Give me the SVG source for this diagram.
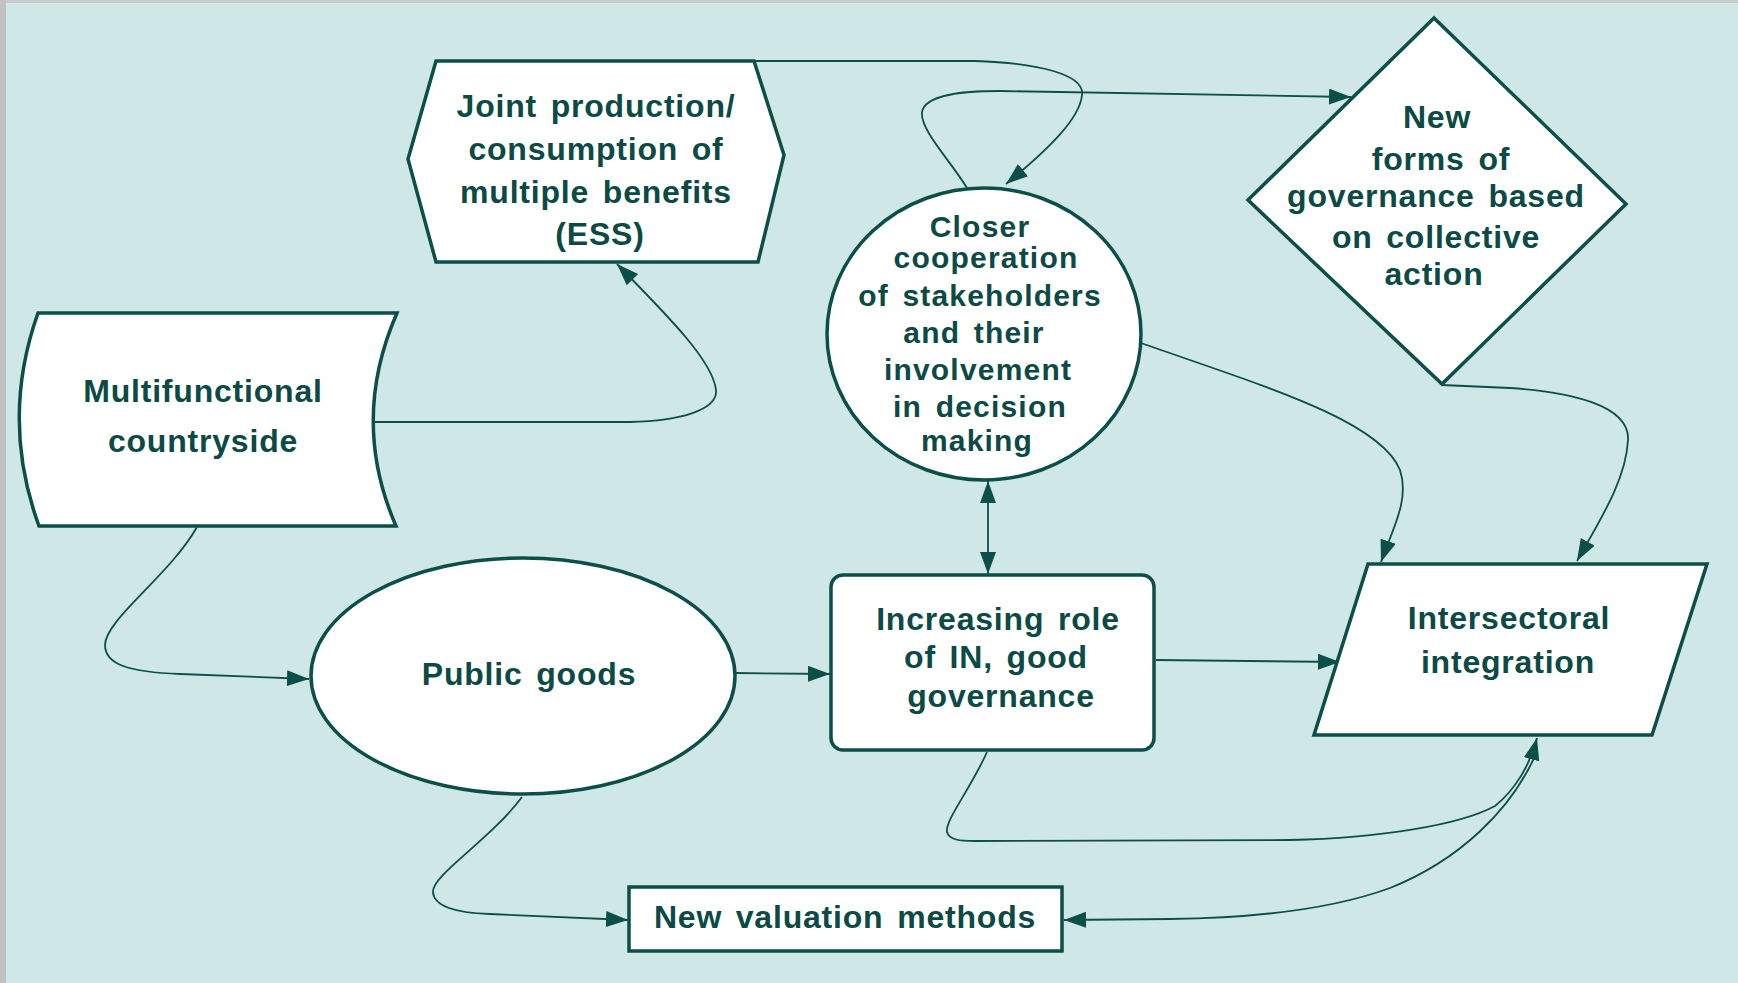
<svg xmlns="http://www.w3.org/2000/svg" width="1738" height="983" viewBox="0 0 1738 983">
<defs>
<style>
.node{fill:#ffffff;stroke:#0c4f49;stroke-width:3.5;stroke-linejoin:miter}
.lbl{font-family:"Liberation Sans",Arial,sans-serif;font-weight:bold;font-size:32px;fill:#0b4a45;text-anchor:middle;letter-spacing:0.8px;word-spacing:4px}
.sm{font-size:30px;letter-spacing:1.2px}
.con{fill:none;stroke:#0c4f49;stroke-width:1.8}
.arr{marker-end:url(#ah)}
</style>
<marker id="ah" markerUnits="userSpaceOnUse" markerWidth="24" markerHeight="18" refX="22" refY="8" orient="auto">
<path d="M0,0 L22,8 L0,16 Z" fill="#0c4f49"/>
</marker>
<marker id="ahs" markerUnits="userSpaceOnUse" markerWidth="24" markerHeight="18" refX="22" refY="8" orient="auto-start-reverse">
<path d="M0,0 L22,8 L0,16 Z" fill="#0c4f49"/>
</marker>
</defs>
<rect x="0" y="0" width="1738" height="983" fill="#cfe7e7"/>
<rect x="0" y="0" width="1738" height="3" fill="#c9c9c9"/>
<rect x="0" y="0" width="6" height="983" fill="#c2c2c2"/>

<g id="connectors">
<path class="con arr" d="M375,422 L630,422 C680,421 718,410 716,390 C713,362 672,320 617,264"/>
<path class="con arr" d="M754,61 L975,61 C1040,63 1085,75 1082,95 C1080,118 1050,148 1006,184"/>
<path class="con arr" d="M967,188 C950,160 920,130 922,112 C925,95 960,91 1000,91 L1351,97"/>
<path class="con arr" d="M197,527 C170,575 105,620 105,645 C105,665 130,672 180,674 L309,679"/>
<path class="con arr" d="M736,673 L830,674"/>
<path class="con arr" d="M522,797 C490,840 432,875 433,892 C434,908 460,913 490,914 L628,920"/>
<path class="con" d="M988,481 L988,574" marker-start="url(#ahs)" marker-end="url(#ah)"/>
<path class="con arr" d="M1156,660 L1340,662"/>
<path class="con arr" d="M1141,343 C1260,385 1380,420 1400,470 C1410,500 1392,530 1381,562"/>
<path class="con arr" d="M1442,385 L1510,388 C1570,392 1630,405 1628,440 C1626,480 1600,520 1577,561"/>
<path class="con arr" d="M987,752 C970,790 945,820 947,832 C949,840 960,841 975,841 L1290,840 C1380,838 1460,825 1495,806 C1515,790 1530,765 1537,738"/>
<path class="con arr" d="M1534,758 C1510,810 1460,860 1390,888 C1330,910 1250,918 1170,919 L1064,920"/>
</g>

<g id="joint-production">
<polygon class="node" points="436,61 754,61 784,155 758,262 436,262 408,159"/>
<text class="lbl" x="596" y="117">Joint production/</text>
<text class="lbl" x="596" y="160">consumption of</text>
<text class="lbl" x="596" y="203">multiple benefits</text>
<text class="lbl" x="600" y="245">(ESS)</text>
</g>

<g id="multifunctional-countryside">
<path class="node" d="M38,313 L397,313 Q350,420 396,526 L39,526 Q0,420 38,313 Z"/>
<text class="lbl" x="203" y="402">Multifunctional</text>
<text class="lbl" x="203" y="452">countryside</text>
</g>

<g id="closer-cooperation">
<ellipse class="node" cx="984" cy="334" rx="157" ry="146"/>
<text class="lbl sm" x="980" y="237">Closer</text>
<text class="lbl sm" x="986" y="268">cooperation</text>
<text class="lbl sm" x="980" y="306">of stakeholders</text>
<text class="lbl sm" x="974" y="343">and their</text>
<text class="lbl sm" x="978" y="380">involvement</text>
<text class="lbl sm" x="980" y="417">in decision</text>
<text class="lbl sm" x="977" y="451">making</text>
</g>

<g id="new-forms-governance">
<polygon class="node" points="1434,18 1626,204 1442,384 1248,200"/>
<text class="lbl" x="1437" y="128">New</text>
<text class="lbl" x="1441" y="170">forms of</text>
<text class="lbl" x="1436" y="207">governance based</text>
<text class="lbl" x="1436" y="248">on collective</text>
<text class="lbl" x="1434" y="285">action</text>
</g>

<g id="public-goods">
<ellipse class="node" cx="523" cy="676" rx="212" ry="118"/>
<text class="lbl" x="529" y="685">Public goods</text>
</g>

<g id="increasing-role">
<rect class="node" x="831" y="575" width="323" height="175" rx="12" ry="12"/>
<text class="lbl" x="998" y="630">Increasing role</text>
<text class="lbl" x="996" y="668">of IN, good</text>
<text class="lbl" x="1001" y="707">governance</text>
</g>

<g id="intersectoral-integration">
<polygon class="node" points="1368,564 1707,564 1652,735 1314,735"/>
<text class="lbl" x="1509" y="629">Intersectoral</text>
<text class="lbl" x="1508" y="673">integration</text>
</g>

<g id="new-valuation-methods">
<rect class="node" x="629" y="887" width="433" height="64"/>
<text class="lbl" x="845" y="928">New valuation methods</text>
</g>
</svg>
